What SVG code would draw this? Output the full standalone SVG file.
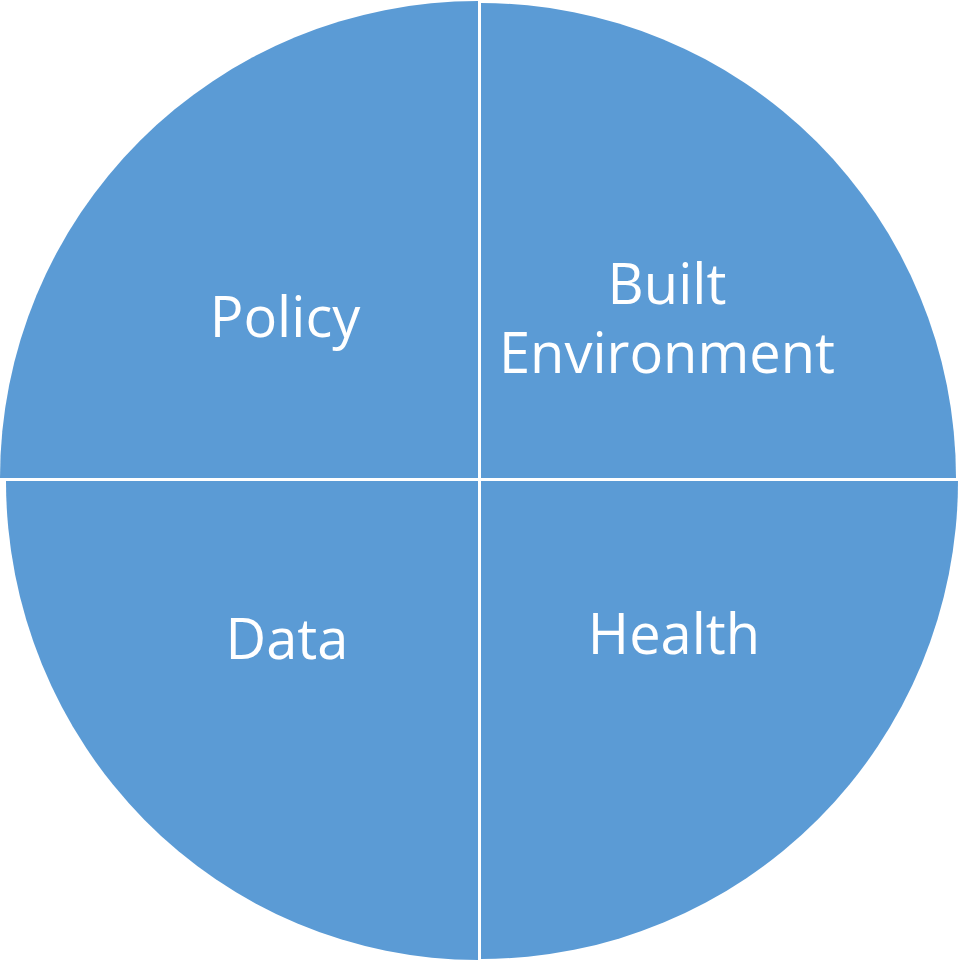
<svg xmlns="http://www.w3.org/2000/svg" width="959" height="960" viewBox="0 0 959 960">
<style>
.q{fill:#5B9BD5;}
.t{font-family:"Open Sans","Noto Sans",sans-serif;font-size:56px;fill:#FFFFFF;text-anchor:middle;}
</style>
<rect width="959" height="960" fill="#FFFFFF"/>
<g id="policy">
<path class="q" d="M478,478 L0,478 A478,477 0 0 1 478,1 Z"/>
<text class="t" x="285" y="337">Policy</text>
</g>
<g id="built-environment">
<path class="q" d="M481,478 L481,3 A475,475 0 0 1 956,478 Z"/>
<text class="t" x="667" y="304">Built</text>
<text class="t" x="667" y="373">Environment</text>
</g>
<g id="data">
<path class="q" d="M478,481 L478,960 A472,479 0 0 1 6,481 Z"/>
<text class="t" x="287" y="659">Data</text>
</g>
<g id="health">
<path class="q" d="M481,481 L958,481 A477,478 0 0 1 481,959 Z"/>
<text class="t" x="674" y="654">Health</text>
</g>
<g id="connectors"></g>
</svg>
